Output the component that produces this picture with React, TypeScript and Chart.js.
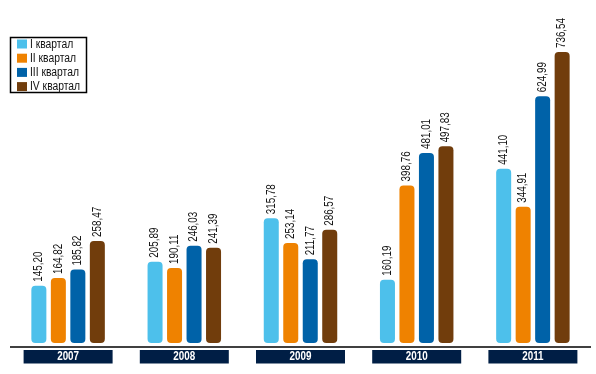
import React, { useEffect, useRef } from "react";
import { Chart, registerables } from "chart.js";

Chart.register(...registerables);

const years = ["2007", "2008", "2009", "2010", "2011"];
const seriesNames = ["I квартал", "II квартал", "III квартал", "IV квартал"];
const q1 = [145.2, 205.89, 315.78, 160.19, 441.1];
const q2 = [164.82, 190.11, 253.14, 398.76, 344.91];
const q3 = [185.82, 246.03, 211.77, 481.01, 624.99];
const q4 = [258.47, 241.39, 286.57, 497.83, 736.54];
const colors = ["#4DC0EB", "#EF8200", "#0062A8", "#713D0C"];

const FONT = "'Liberation Sans', Arial, sans-serif";

const fmt = (v: number) => v.toFixed(2).replace(".", ",");

function narrowText(ctx: any, text: string, x: number, y: number, rot = 0, k = 0.8) {
  ctx.save();
  ctx.translate(x, y);
  if (rot) ctx.rotate(rot);
  ctx.scale(k, 1);
  ctx.fillText(text, 0, 0);
  ctx.restore();
}

const decorPlugin = {
  id: "decor",
  afterDatasetsDraw(chart: any) {
    const ctx = chart.ctx;
    const area = chart.chartArea;
    const xs = chart.scales.x;
    ctx.save();
    // value labels
    ctx.font = `12px ${FONT}`;
    ctx.fillStyle = "#111";
    ctx.textBaseline = "middle";
    ctx.textAlign = "left";
    chart.data.datasets.forEach((ds: any, di: number) => {
      const meta = chart.getDatasetMeta(di);
      meta.data.forEach((bar: any, i: number) => {
        narrowText(ctx, fmt(ds.data[i]), bar.x, bar.y - 4, -Math.PI / 2, 0.82);
      });
    });
    // axis line
    ctx.strokeStyle = "#000";
    ctx.lineWidth = 1.5;
    ctx.beginPath();
    ctx.moveTo(10, area.bottom + 4);
    ctx.lineTo(591, area.bottom + 4);
    ctx.stroke();
    // year boxes
    const boxW = 89;
    chart.data.labels.forEach((lab: string, i: number) => {
      const cx = xs.getPixelForValue(i);
      ctx.fillStyle = "#001E45";
      ctx.fillRect(cx - boxW / 2, area.bottom + 7, boxW, 13.5);
      ctx.fillStyle = "#fff";
      ctx.font = `bold 12px ${FONT}`;
      ctx.textAlign = "center";
      ctx.textBaseline = "middle";
      narrowText(ctx, lab, cx, area.bottom + 14, 0, 0.82);
    });
    // legend
    ctx.strokeStyle = "#000";
    ctx.lineWidth = 1.5;
    ctx.strokeRect(10.5, 37.5, 76, 55);
    ctx.font = `12px ${FONT}`;
    ctx.textAlign = "left";
    ctx.textBaseline = "middle";
    chart.data.datasets.forEach((ds: any, di: number) => {
      const cy = 44 + di * 14.2;
      ctx.fillStyle = ds.backgroundColor;
      ctx.fillRect(17, cy - 4.5, 10, 9);
      ctx.fillStyle = "#111";
      narrowText(ctx, ds.label, 30, cy + 0.5, 0, 0.86);
    });
    ctx.restore();
  },
};

export default function App() {
  const ref = useRef<HTMLCanvasElement>(null);
  useEffect(() => {
    if (!ref.current) return;
    const values = [q1, q2, q3, q4];
    const chart = new Chart(ref.current, {
      type: "bar",
      data: {
        labels: years,
        datasets: seriesNames.map((name, i) => ({
          label: name,
          data: values[i],
          backgroundColor: colors[i],
          borderRadius: 4,
          borderSkipped: false,
          categoryPercentage: 0.671,
          barPercentage: 0.77,
        })),
      },
      options: {
        responsive: false,
        animation: false,
        layout: { padding: { left: 10, right: 5, top: 27, bottom: 31 } },
        plugins: { legend: { display: false }, tooltip: { enabled: false } },
        scales: {
          x: { display: false },
          y: { display: false, min: 0, max: 800 },
        },
      },
      plugins: [decorPlugin],
    });
    return () => chart.destroy();
  }, []);
  return (
    <div style={{ position: "fixed", left: 0, top: 0, width: 596, height: 374, background: "#fff" }}>
      <canvas ref={ref} width={596} height={374} />
    </div>
  );
}
